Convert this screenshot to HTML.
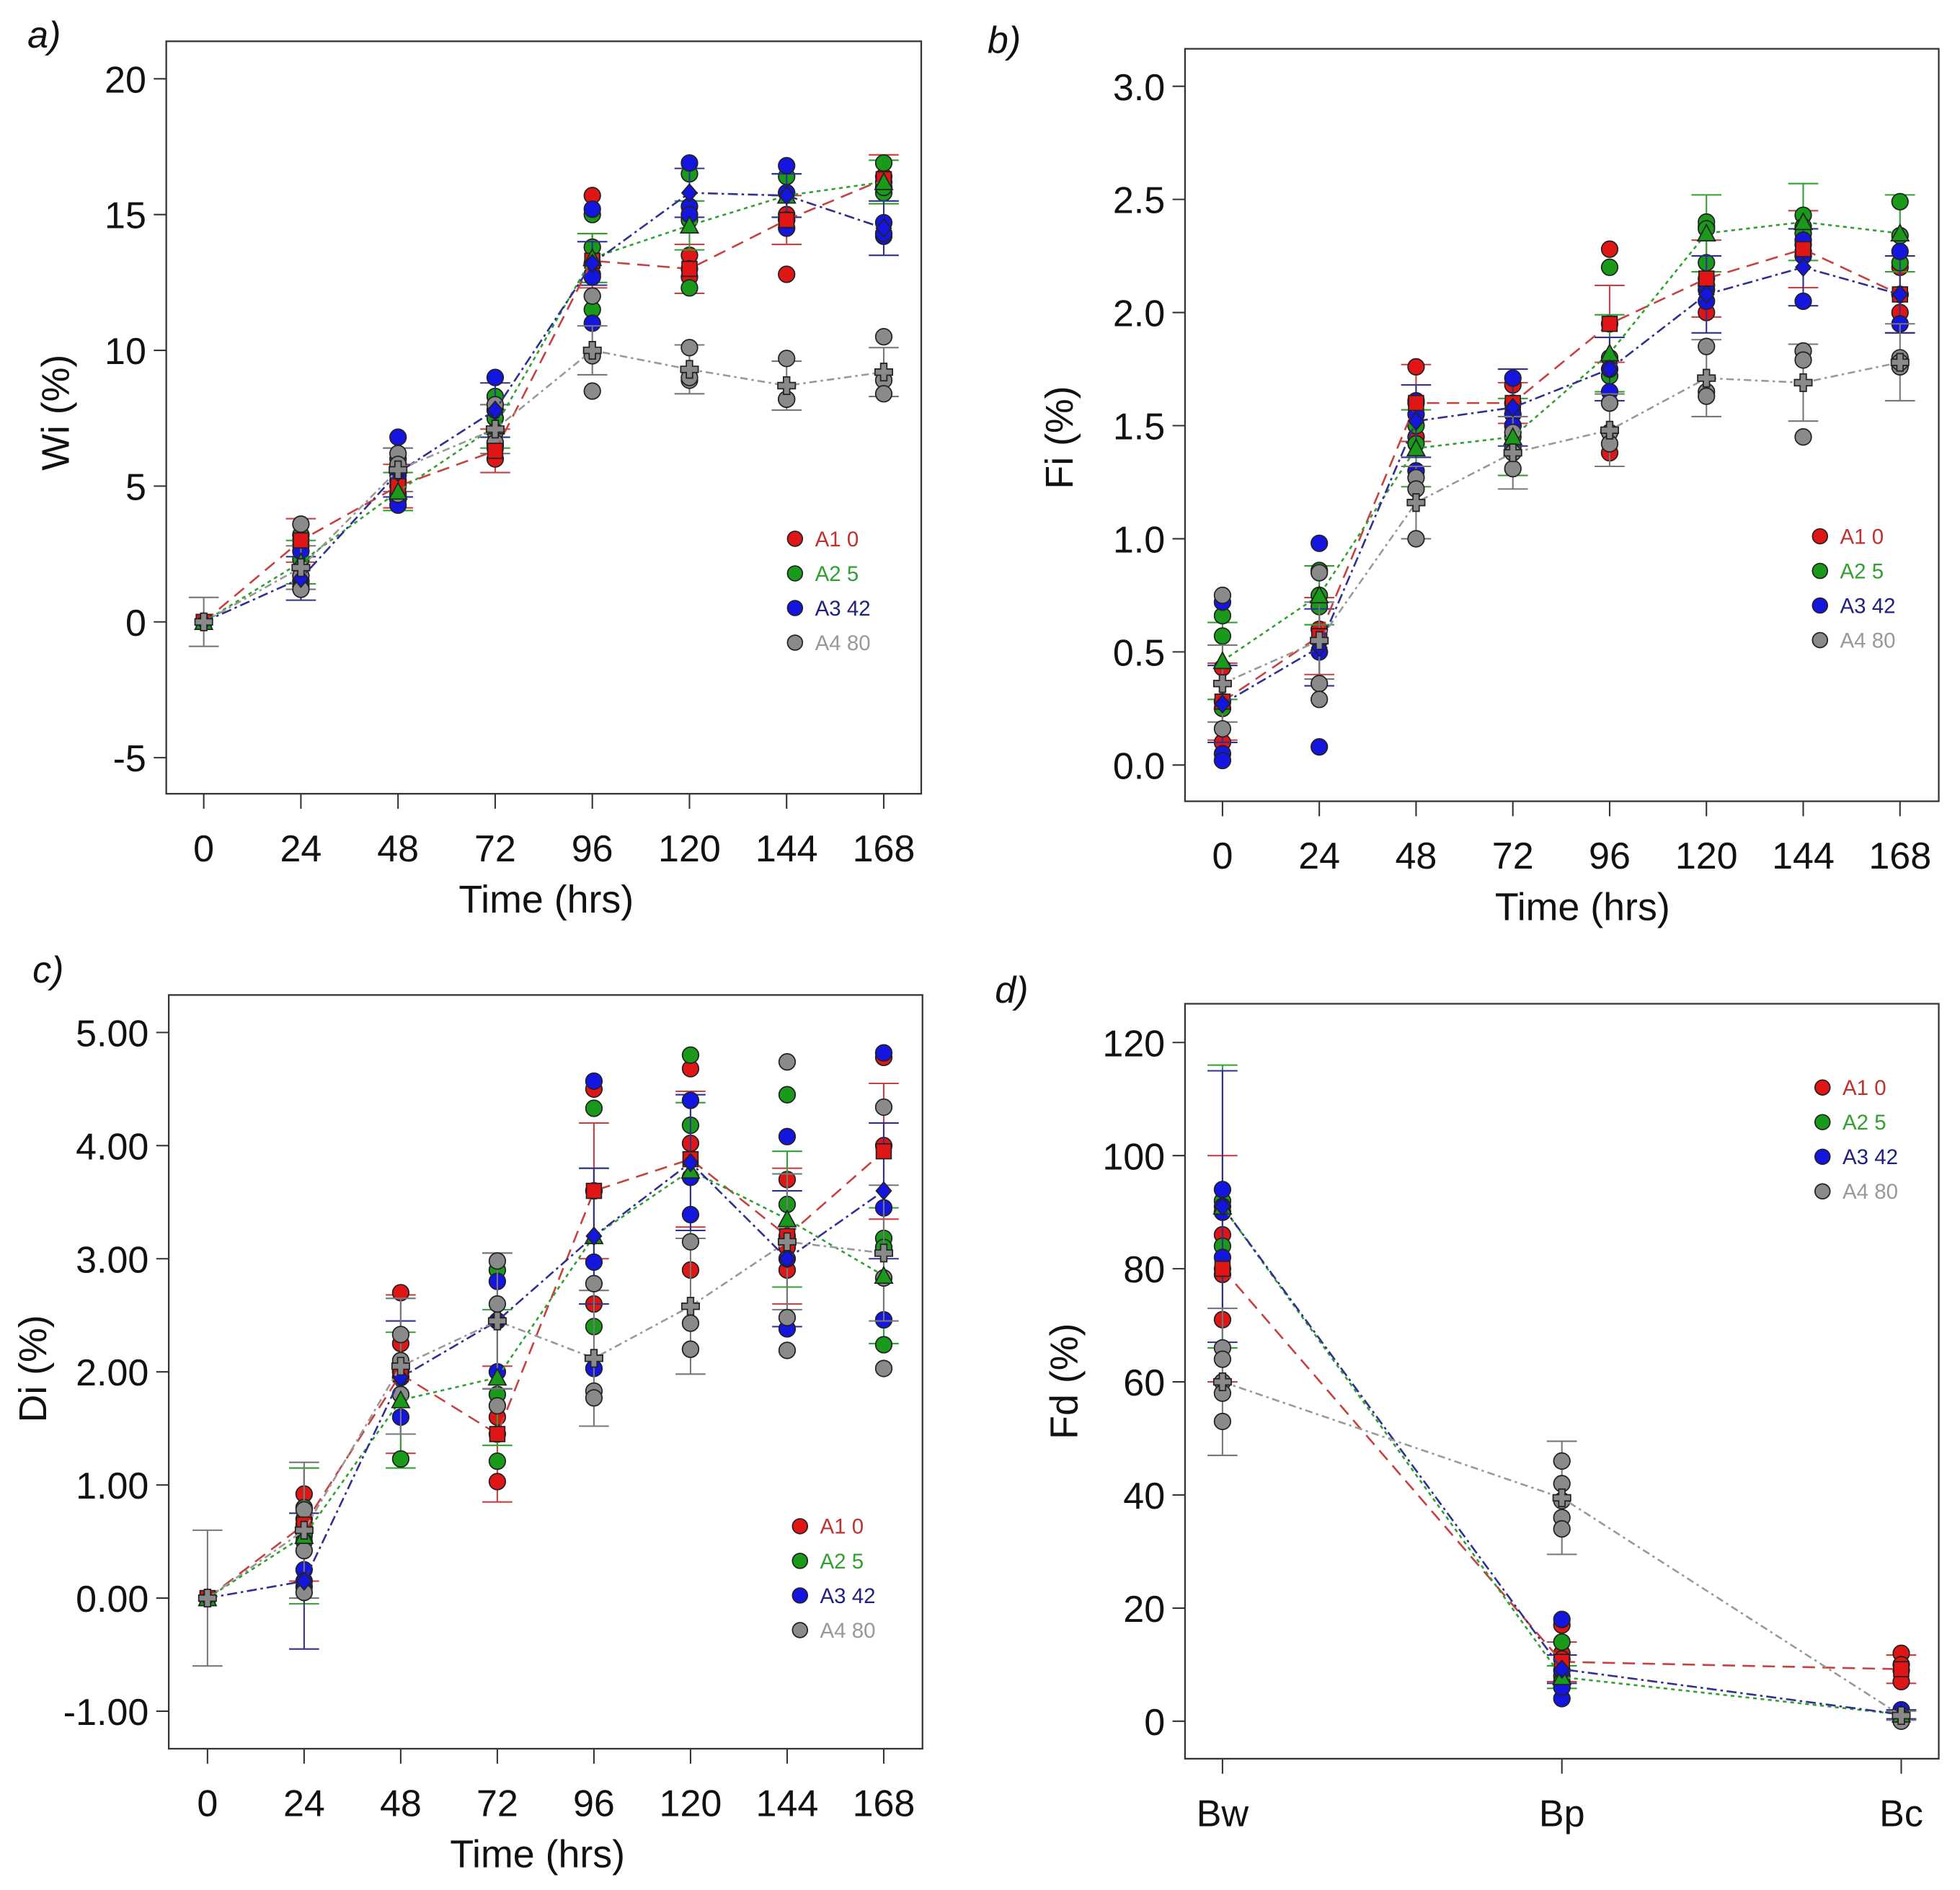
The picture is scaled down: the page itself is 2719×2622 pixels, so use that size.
<!DOCTYPE html>
<html><head><meta charset="utf-8"><style>
html,body{margin:0;padding:0;background:#fff;}
svg{display:block;}
text{font-family:"Liberation Sans","DejaVu Sans",sans-serif;}
</style></head><body>
<svg id="fig" width="2719" height="2622" viewBox="0 0 1568 1512" xmlns="http://www.w3.org/2000/svg"></svg>
<script>
// ---------- data ----------
const timeCats = [0,24,48,72,96,120,144,168];
const fdCats = ["Bw","Bp","Bc"];
const seriesNames = ["A1 0","A2 5","A3 42","A4 80"];

// Panel a: Wi (%)
const wiRed   = [0,3.0,5.0,6.3,13.3,13.0,14.8,16.3];
const wiGreen = [0,2.2,4.8,7.2,13.4,14.6,15.7,16.2];
const wiBlue  = [0,1.6,5.5,7.8,13.2,15.8,15.7,14.5];
const wiGray  = [0,2.0,5.6,7.1,10.0,9.3,8.7,9.2];
const wiSdRed   = [0,0.8,0.8,0.8,1.0,0.9,0.9,0.9];
const wiSdGreen = [0,0.8,0.7,0.8,0.9,0.9,0.8,0.8];
const wiSdBlue  = [0,0.8,0.9,1.0,0.8,0.9,0.8,1.0];
const wiSdGray  = [0.9,0.8,0.8,0.9,0.9,0.9,0.9,0.9];
const wiPtsRed   = [[],[3.0,2.8,3.2],[4.6,5.2,5.8],[6.0,6.4,6.6],[15.7,13.2,12.8],[13.5,13.0,12.7],[15.0,14.8,12.8],[16.4,16.0,16.2]];
const wiPtsGreen = [[],[3.2,2.3,1.5],[4.5,5.0,6.0],[8.3,7.5,6.5],[15.0,13.8,11.5],[16.5,14.8,12.3],[16.4,15.8,14.8],[16.9,15.8,16.0]];
const wiPtsBlue  = [[],[2.6,1.5,1.3],[6.8,5.4,4.3],[9.0,7.8,7.0],[15.2,12.7,11.0],[16.9,15.3,15.0],[16.8,15.8,14.5],[14.7,14.2,14.3]];
const wiPtsGray  = [[],[3.6,1.7,1.2],[6.2,5.8,4.7],[8.0,7.0,6.6],[12.0,9.8,8.5],[10.1,8.9,9.0],[9.7,8.2,8.2],[10.5,8.9,8.4]];
const wiTicks = [-5,0,5,10,15,20];

// Panel b: Fi (%)
const fiRed   = [0.28,0.57,1.60,1.60,1.95,2.15,2.28,2.08];
const fiGreen = [0.46,0.75,1.40,1.45,1.82,2.35,2.40,2.35];
const fiBlue  = [0.27,0.52,1.52,1.58,1.75,2.08,2.20,2.08];
const fiGray  = [0.36,0.55,1.16,1.38,1.48,1.71,1.69,1.78];
const fiSdRed   = [0.17,0.17,0.17,0.09,0.17,0.17,0.17,0.17];
const fiSdGreen = [0.17,0.13,0.17,0.17,0.17,0.17,0.17,0.17];
const fiSdBlue  = [0.17,0.17,0.16,0.17,0.14,0.17,0.17,0.17];
const fiSdGray  = [0.17,0.17,0.16,0.16,0.16,0.17,0.17,0.17];
const fiPtsRed   = [[0.43,0.28,0.1],[0.55,0.5,0.6],[1.76,1.6,1.45],[1.68,1.6,1.5],[2.28,1.95,1.38],[2.38,2.15,2.0],[2.3,2.27,2.25],[2.2,2.08,2.0]];
const fiPtsGreen = [[0.66,0.57,0.25],[0.86,0.75,0.7],[1.5,1.42,1.3],[1.5,1.45,1.4],[2.2,1.8,1.72],[2.4,2.37,2.22],[2.43,2.38,2.35],[2.49,2.34,2.22]];
const fiPtsBlue  = [[0.72,0.05,0.02],[0.98,0.5,0.08],[1.61,1.55,1.3],[1.71,1.55,1.5],[1.65,1.75,1.6],[2.1,2.05,2.12],[2.32,2.05,2.25],[2.27,1.95,2.08]];
const fiPtsGray  = [[0.75,0.16,0.28],[0.85,0.36,0.29],[1.27,1.22,1.0],[1.47,1.38,1.31],[1.6,1.47,1.42],[1.85,1.65,1.63],[1.83,1.79,1.45],[1.8,1.76,1.78]];
const fiTicks = [0,0.5,1.0,1.5,2.0,2.5,3.0];

// Panel c: Di (%)
const diRed   = [0,0.65,1.98,1.45,3.6,3.88,3.2,3.95];
const diGreen = [0,0.55,1.75,1.95,3.2,3.78,3.35,2.85];
const diBlue  = [0,0.15,1.95,2.45,3.2,3.85,3.0,3.6];
const diGray  = [0,0.6,2.05,2.45,2.12,2.58,3.15,3.05];
const diSdRed   = [0,0.5,0.7,0.6,0.6,0.6,0.6,0.6];
const diSdGreen = [0,0.6,0.6,0.6,0.6,0.6,0.6,0.6];
const diSdBlue  = [0,0.6,0.5,0.6,0.6,0.6,0.6,0.6];
const diSdGray  = [0.6,0.6,0.6,0.6,0.6,0.6,0.6,0.6];
const diPtsRed   = [[],[0.92,0.65,0.7],[2.7,2.25,1.95],[1.6,1.03,1.45],[4.5,3.6,2.6],[4.68,4.02,2.9],[3.7,3.1,2.9],[4.78,4.0,3.1]];
const diPtsGreen = [[],[0.8,0.55,0.5],[2.0,1.8,1.23],[2.9,1.8,1.21],[4.33,3.6,2.4],[4.8,4.18,2.2],[4.45,3.48,3.2],[3.18,3.1,2.24]];
const diPtsBlue  = [[],[0.25,0.1,0.15],[2.0,1.95,1.6],[2.8,2.0,2.45],[4.57,2.97,2.03],[4.4,3.72,3.39],[4.08,3.0,2.38],[4.82,3.45,2.46]];
const diPtsGray  = [[],[0.78,0.42,0.05],[2.33,2.1,1.8],[2.98,2.6,1.7],[2.78,1.83,1.77],[3.15,2.43,2.2],[4.74,2.48,2.19],[4.34,2.83,2.03]];
const diTicks = [-1,0,1,2,3,4,5];

// Panel d: Fd (%)
const fdRed   = [80,10.5,9.2];
const fdGreen = [91,7.8,1.2];
const fdBlue  = [91,9.2,1.2];
const fdGray  = [60,39.5,1.0];
const fdSdRed   = [20,3.5,2.5];
const fdSdGreen = [25,2,0.8];
const fdSdBlue  = [24,2.5,0.8];
const fdSdGray  = [13,10,0.8];
const fdPtsRed   = [[86,80,71,79],[17,12,11,8],[12,9,7,10]];
const fdPtsGreen = [[84,92,90],[14,7,6],[1,2,1]];
const fdPtsBlue  = [[94,91,82,90],[18,9,4,6],[2,1,1]];
const fdPtsGray  = [[66,64,60,58,53],[46,42,39,36,34],[1,0.5,0]];
const fdTicks = [0,20,40,60,80,100,120];

// ---------- drawing ----------
const NS="http://www.w3.org/2000/svg";
const svg=document.getElementById('fig');
const fill=["#e01515","#1a9a1a","#1515e0","#8a8a8a"];
const lineCol=["#c84040","#30a030","#303090","#999999"];
const txtCol=["#c03030","#30a030","#202080","#999999"];
const dash=["10,6","3,3","8,3,2,3","6,3,2,3"];
function mk(tag,attrs,parent){const e=document.createElementNS(NS,tag);for(const k in attrs)e.setAttribute(k,attrs[k]);(parent||svg).appendChild(e);return e;}

function panel(cfg){
  const g=mk('g',{});
  
  
  const X=i=>cfg.x0+(cfg.x1-cfg.x0)*i/(cfg.nCats-1);
  const Y=v=>cfg.y0+(cfg.y1-cfg.y0)*(v-cfg.v0)/(cfg.v1-cfg.v0);
  const box=mk('rect',{x:cfg.L,y:cfg.T,width:cfg.R-cfg.L,height:cfg.B-cfg.T,fill:'none',stroke:'#333','stroke-width':1.3},g);
  
  
  cfg.ticks.forEach(t=>{
    mk('line',{x1:cfg.L-10,x2:cfg.L,y1:Y(t),y2:Y(t),stroke:'#333','stroke-width':1.2},g);
    const tx=mk('text',{x:cfg.L-16,y:Y(t)+11,'font-size':30,'text-anchor':'end',fill:'#111'},g);
    tx.textContent=cfg.fmt(t);
    
    
  });
  cfg.cats.forEach((c,i)=>{
    mk('line',{x1:X(i),x2:X(i),y1:cfg.B,y2:cfg.B+12,stroke:'#333','stroke-width':1.2},g);
    const tx=mk('text',{x:X(i),y:cfg.B+54,'font-size':30,'text-anchor':'middle',fill:'#111'},g);
    tx.textContent=c;
    
    
  });
  if(cfg.xTitle){
    const xt=mk('text',{x:cfg.xTx,y:cfg.B+95,'font-size':31,'text-anchor':'middle',fill:'#111'},g);
    xt.textContent=cfg.xTitle;
    
    
  }
  const yt=mk('text',{x:cfg.yTx,y:cfg.yTy,'font-size':31,'text-anchor':'middle',fill:'#111',transform:`rotate(-90 ${cfg.yTx} ${cfg.yTy})`},g);
  yt.textContent=cfg.yTitle;
  
  
  const pl=mk('text',{x:cfg.lx,y:cfg.ly,'font-size':30,'font-style':'italic',fill:'#111'},g);
  pl.textContent=cfg.label;
  
  

  cfg.series.forEach((s,si)=>{
    const sg=mk('g',{},g);
    
    
    s.mean.forEach((m,i)=>{
      const sd=s.sd[i]; if(!sd) return;
      const c=si===3?'#777':lineCol[si];
      mk('line',{x1:X(i),x2:X(i),y1:Y(m-sd),y2:Y(m+sd),stroke:c,'stroke-width':1.2},sg);
      mk('line',{x1:X(i)-12,x2:X(i)+12,y1:Y(m-sd),y2:Y(m-sd),stroke:c,'stroke-width':1.2},sg);
      mk('line',{x1:X(i)-12,x2:X(i)+12,y1:Y(m+sd),y2:Y(m+sd),stroke:c,'stroke-width':1.2},sg);
    });
    s.pts.forEach((arr,i)=>arr.forEach(v=>{
      const p=mk('circle',{cx:X(i),cy:Y(v),r:6.5,fill:fill[si],stroke:'#222','stroke-width':1},sg);
      
      
    }));
  });
  cfg.series.forEach((s,si)=>{
    const d=s.mean.map((m,i)=>(i?'L':'M')+X(i)+','+Y(m)).join(' ');
    const ln=mk('path',{d:d,fill:'none',stroke:lineCol[si],'stroke-width':1.5,'stroke-dasharray':dash[si]},g);
    
    
    s.mean.forEach((m,i)=>{
      const x=X(i),y=Y(m);let e;
      if(si===0) e=mk('rect',{x:x-6,y:y-6,width:12,height:12,fill:fill[0],stroke:'#222','stroke-width':1},g);
      else if(si===1) e=mk('polygon',{points:`${x},${y-7} ${x-7},${y+6} ${x+7},${y+6}`,fill:fill[1],stroke:'#222','stroke-width':1},g);
      else if(si===2) e=mk('polygon',{points:`${x},${y-7} ${x+6},${y} ${x},${y+7} ${x-6},${y}`,fill:fill[2],stroke:'#222','stroke-width':1},g);
      else e=mk('path',{d:`M${x-2.5},${y-7}h5v4.5h4.5v5h-4.5v4.5h-5v-4.5h-4.5v-5h4.5z`,fill:'#8a8a8a',stroke:'#222','stroke-width':1},g);
      
      
    });
  });
  const lg=mk('g',{},g);
  
  
  seriesNames.forEach((n,si)=>{
    const y=cfg.legY+si*27.7;
    mk('circle',{cx:cfg.legX,cy:y,r:6,fill:fill[si],stroke:'#222','stroke-width':1},lg);
    const t=mk('text',{x:cfg.legX+16,y:y+6,'font-size':17,fill:txtCol[si]},lg);
    t.textContent=n;
    
    
  });
}
const tCats=timeCats.map(String);
panel({name:'panel-a-wi',L:133,R:737,T:33,B:635,x0:163,x1:707,nCats:8,cats:tCats,y0:497.5,y1:63,v0:0,v1:20,ticks:wiTicks,fmt:t=>String(t),
  xTitle:'Time (hrs)',xTx:437,yTitle:'Wi (%)',yTx:55,yTy:330,label:'a)',lx:22,ly:38,legX:636,legY:431,
  series:[{mean:wiRed,sd:wiSdRed,pts:wiPtsRed},{mean:wiGreen,sd:wiSdGreen,pts:wiPtsGreen},{mean:wiBlue,sd:wiSdBlue,pts:wiPtsBlue},{mean:wiGray,sd:wiSdGray,pts:wiPtsGray}]});
panel({name:'panel-b-fi',L:948,R:1551,T:39,B:641,x0:978,x1:1520,nCats:8,cats:tCats,y0:612,y1:69,v0:0,v1:3,ticks:fiTicks,fmt:t=>t.toFixed(1),
  xTitle:'Time (hrs)',xTx:1266,yTitle:'Fi (%)',yTx:858,yTy:350,label:'b)',lx:790,ly:42,legX:1456,legY:429,
  series:[{mean:fiRed,sd:fiSdRed,pts:fiPtsRed},{mean:fiGreen,sd:fiSdGreen,pts:fiPtsGreen},{mean:fiBlue,sd:fiSdBlue,pts:fiPtsBlue},{mean:fiGray,sd:fiSdGray,pts:fiPtsGray}]});
panel({name:'panel-c-di',L:135,R:738,T:796,B:1399,x0:166,x1:707,nCats:8,cats:tCats,y0:1278.5,y1:826,v0:0,v1:5,ticks:diTicks,fmt:t=>t.toFixed(2),
  xTitle:'Time (hrs)',xTx:430,yTitle:'Di (%)',yTx:37,yTy:1095,label:'c)',lx:26,ly:786,legX:640,legY:1221,
  series:[{mean:diRed,sd:diSdRed,pts:diPtsRed},{mean:diGreen,sd:diSdGreen,pts:diPtsGreen},{mean:diBlue,sd:diSdBlue,pts:diPtsBlue},{mean:diGray,sd:diSdGray,pts:diPtsGray}]});
panel({name:'panel-d-fd',L:948,R:1551,T:803,B:1407,x0:978,x1:1521,nCats:3,cats:fdCats,y0:1377,y1:834,v0:0,v1:120,ticks:fdTicks,fmt:t=>String(t),
  xTitle:'',yTitle:'Fd (%)',yTx:862,yTy:1105,label:'d)',lx:796,ly:802,legX:1458,legY:870,
  series:[{mean:fdRed,sd:fdSdRed,pts:fdPtsRed},{mean:fdGreen,sd:fdSdGreen,pts:fdPtsGreen},{mean:fdBlue,sd:fdSdBlue,pts:fdPtsBlue},{mean:fdGray,sd:fdSdGray,pts:fdPtsGray}]});
</script>
</body></html>
